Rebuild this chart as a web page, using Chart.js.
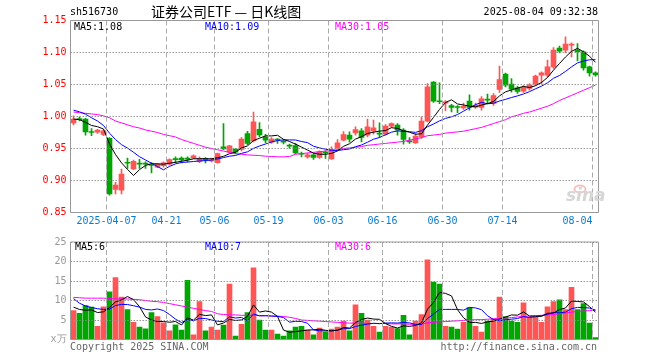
<!DOCTYPE html>
<html><head><meta charset="utf-8">
<script src="https://cdn.jsdelivr.net/npm/chart.js@4.4.1/dist/chart.umd.min.js"></script>
<style>
html,body{margin:0;padding:0;background:#fff;}
#wrap{position:relative;width:660px;height:360px;overflow:hidden;background:#fff;}
#k{position:absolute;left:0;top:0;}
#v{position:absolute;left:0;top:232px;}
</style></head>
<body><div id="wrap">
<canvas id="k" width="660" height="232"></canvas>
<canvas id="v" width="660" height="128"></canvas>
</div>
<script>
const dates = ['2025-03-27','2025-03-28','2025-03-31','2025-04-01','2025-04-02','2025-04-03','2025-04-07','2025-04-08','2025-04-09','2025-04-10',
'2025-04-11','2025-04-14','2025-04-15','2025-04-16','2025-04-17','2025-04-18','2025-04-21','2025-04-22','2025-04-23','2025-04-24',
'2025-04-25','2025-04-28','2025-04-29','2025-04-30','2025-05-06','2025-05-07','2025-05-08','2025-05-09','2025-05-12','2025-05-13',
'2025-05-14','2025-05-15','2025-05-16','2025-05-19','2025-05-20','2025-05-21','2025-05-22','2025-05-23','2025-05-26','2025-05-27',
'2025-05-28','2025-05-29','2025-05-30','2025-06-03','2025-06-04','2025-06-05','2025-06-06','2025-06-09','2025-06-10','2025-06-11',
'2025-06-12','2025-06-13','2025-06-16','2025-06-17','2025-06-18','2025-06-19','2025-06-20','2025-06-23','2025-06-24','2025-06-25',
'2025-06-26','2025-06-27','2025-06-30','2025-07-01','2025-07-02','2025-07-03','2025-07-04','2025-07-07','2025-07-08','2025-07-09',
'2025-07-10','2025-07-11','2025-07-14','2025-07-15','2025-07-16','2025-07-17','2025-07-18','2025-07-21','2025-07-22','2025-07-23',
'2025-07-24','2025-07-25','2025-07-28','2025-07-29','2025-07-30','2025-07-31','2025-08-01','2025-08-04'];

const tickDates = ['2025-04-07','2025-04-21','2025-05-06','2025-05-19','2025-06-03','2025-06-16','2025-06-30','2025-07-14','2025-08-04'];
const tickTexts = ['2025-04-07','04-21','05-06','05-19','06-03','06-16','06-30','07-14','08-04'];

const open = [0.990,0.996,0.996,0.976,0.9755,0.972,0.966,0.886,0.885,0.928,
0.918,0.926,0.926,0.9245,0.921,0.923,0.9255,0.933,0.935,0.934,
0.9354,0.9297,0.933,0.9305,0.928,0.9526,0.9443,0.949,0.9484,0.9734,
0.962,0.980,0.968,0.960,0.9635,0.9605,0.954,0.9547,0.9415,0.937,
0.940,0.936,0.9435,0.9339,0.9505,0.963,0.9708,0.9745,0.9776,0.9708,
0.9776,0.9726,0.9724,0.9849,0.9865,0.9786,0.9605,0.9589,0.9682,0.9927,
1.0536,1.024,1.021,1.017,1.0145,1.0135,1.024,1.0145,1.014,1.026,
1.0203,1.0422,1.0661,1.0505,1.0448,1.0396,1.0437,1.0505,1.0646,1.0646,
1.0776,1.1068,1.1036,1.1115,1.1036,1.101,1.0776,1.0682];
const close = [0.996,0.995,0.976,0.975,0.9786,0.9775,0.879,0.893,0.910,0.927,
0.930,0.9255,0.9255,0.9235,0.9255,0.9276,0.9328,0.9325,0.932,0.9335,
0.9385,0.9339,0.9325,0.931,0.942,0.9495,0.9542,0.9443,0.9646,0.9578,
0.9917,0.9714,0.963,0.9646,0.963,0.960,0.9537,0.9432,0.941,0.940,
0.936,0.9448,0.943,0.9484,0.9589,0.9719,0.9646,0.9797,0.9672,0.9839,
0.9823,0.9724,0.9849,0.989,0.9786,0.964,0.9604,0.9693,0.9927,1.0464,
1.024,1.023,1.023,1.014,1.014,1.016,1.014,1.0175,1.0276,1.0255,
1.0328,1.0578,1.049,1.0427,1.039,1.0464,1.0495,1.063,1.0682,1.0776,
1.1036,1.102,1.113,1.113,1.101,1.076,1.0682,1.065];
const high = [1.001,0.9995,0.997,0.981,0.980,0.979,0.967,0.897,0.918,0.935,
0.932,0.933,0.929,0.928,0.927,0.929,0.934,0.937,0.937,0.937,
0.940,0.937,0.936,0.935,0.943,0.989,0.955,0.950,0.967,0.977,
1.0068,0.9906,0.972,0.967,0.9656,0.963,0.957,0.9578,0.9443,0.943,
0.9422,0.9464,0.9464,0.9526,0.964,0.9766,0.976,0.984,0.981,0.9958,
0.9943,0.990,0.9875,0.990,0.989,0.981,0.9672,0.9734,0.9995,1.0516,
1.0546,1.0526,1.025,1.019,1.017,1.021,1.034,1.021,1.031,1.035,
1.036,1.0786,1.068,1.0594,1.047,1.0484,1.0516,1.0646,1.0698,1.088,
1.1078,1.110,1.1245,1.115,1.114,1.1026,1.0786,1.0698];
const low = [0.987,0.993,0.971,0.970,0.9734,0.970,0.877,0.879,0.879,0.919,
0.917,0.919,0.919,0.912,0.920,0.921,0.924,0.9276,0.9276,0.929,
0.934,0.928,0.9276,0.929,0.927,0.948,0.943,0.9417,0.9463,0.956,
0.9604,0.968,0.959,0.958,0.958,0.957,0.950,0.9417,0.937,0.935,
0.9328,0.9344,0.9344,0.9328,0.9484,0.962,0.960,0.971,0.9604,0.968,
0.9724,0.9672,0.9708,0.9828,0.9708,0.9568,0.9578,0.9578,0.9656,0.9917,
1.022,1.020,1.009,1.007,1.006,1.011,1.010,1.0125,1.010,1.0203,
1.0172,1.0375,1.0464,1.038,1.036,1.0375,1.041,1.0484,1.051,1.062,
1.075,1.0995,1.0995,1.093,1.087,1.0724,1.063,1.063];

const volume = [7.4,6.7,8.7,8.3,3.4,8.4,12.2,15.9,10.9,7.7,
4.4,3.2,2.75,6.9,5.9,4.3,2.25,3.75,2.4,15.2,
1.2,9.7,2.2,3.2,2.4,3.7,14.2,0.9,3.9,6.9,
18.4,5.0,2.4,2.4,1.4,0.9,2.2,3.2,3.4,2.4,
1.2,2.9,1.9,2.7,3.2,4.7,2.2,8.9,6.7,5.0,
3.4,1.9,3.4,3.2,2.8,6.2,1.2,4.7,6.4,20.4,
14.7,14.2,3.4,3.2,2.7,4.4,8.2,3.4,1.9,4.7,
5.3,10.9,5.9,4.7,4.4,9.4,5.7,5.7,4.4,8.4,
9.7,10.2,7.7,13.4,7.7,9.2,4.2,0.5];

const ma5 = [0.996,0.995,0.991,0.986,0.9841,0.9804,0.9572,0.9406,0.9276,0.9173,
0.9078,0.917,0.9236,0.9263,0.926,0.9255,0.927,0.9284,0.9301,0.9317,
0.9339,0.9341,0.9341,0.9339,0.9356,0.9378,0.9418,0.9442,0.9509,0.9541,
0.9625,0.966,0.9697,0.9697,0.9707,0.9644,0.9609,0.9569,0.9522,0.9476,
0.9428,0.941,0.941,0.9424,0.9462,0.9534,0.9574,0.9647,0.9685,0.9735,
0.9755,0.9771,0.9781,0.9825,0.9814,0.9778,0.9754,0.9723,0.973,0.9866,
0.9986,1.0111,1.0218,1.0261,1.0196,1.018,1.0162,1.0151,1.0178,1.0201,
1.0235,1.0322,1.0385,1.0416,1.0443,1.047,1.0453,1.0481,1.0532,1.0609,
1.0724,1.0829,1.0929,1.1018,1.1065,1.101,1.0942,1.0846];
const ma10 = [1.0099,1.0073,1.0036,0.998,0.993,0.986,0.974,0.964,0.956,0.9507,
0.9441,0.9372,0.9321,0.927,0.9217,0.9167,0.922,0.926,0.9282,0.9288,
0.9297,0.9305,0.9312,0.932,0.9336,0.9358,0.938,0.9391,0.9424,0.9448,
0.9502,0.9539,0.957,0.9603,0.9624,0.9635,0.9634,0.9633,0.9609,0.9592,
0.9536,0.9509,0.9489,0.9473,0.9469,0.9481,0.9492,0.9528,0.9555,0.9598,
0.9645,0.9672,0.9714,0.9755,0.9775,0.9767,0.9762,0.9752,0.9778,0.984,
0.9882,0.9932,0.997,0.9995,1.0031,1.0083,1.0136,1.0185,1.022,1.0199,
1.0207,1.0242,1.0268,1.0297,1.0322,1.0352,1.0388,1.0433,1.0474,1.0526,
1.0597,1.0641,1.0705,1.0775,1.0837,1.0867,1.0886,1.0888];
const ma30 = [1.007,1.006,1.005,1.004,1.003,1.001,0.998,0.993,0.990,0.987,
0.984,0.982,0.979,0.977,0.975,0.972,0.970,0.968,0.964,0.961,
0.958,0.955,0.952,0.950,0.948,0.946,0.944,0.942,0.941,0.940,
0.9395,0.939,0.938,0.9375,0.937,0.937,0.9375,0.941,0.942,0.943,
0.944,0.945,0.946,0.947,0.948,0.950,0.951,0.952,0.953,0.955,
0.956,0.957,0.958,0.959,0.960,0.961,0.963,0.965,0.967,0.970,
0.971,0.972,0.974,0.975,0.976,0.977,0.979,0.981,0.983,0.986,
0.989,0.992,0.995,0.9995,1.002,1.005,1.007,1.010,1.013,1.016,
1.020,1.025,1.029,1.033,1.037,1.041,1.045,1.049];

const vma5 = [8.3,7.7,7.5,7.6,6.9,7.1,8.2,9.64,10.16,11.02,
10.22,8.42,5.79,4.99,4.63,4.61,4.42,4.62,3.72,5.58,
4.96,6.45,6.14,6.3,3.74,4.24,5.14,4.88,5.02,5.92,
8.86,7.02,7.32,7.02,5.92,2.42,1.86,2.02,2.22,2.42,
2.48,2.62,2.36,2.22,2.38,3.08,2.94,4.34,5.14,5.5,
5.24,5.18,4.08,3.38,2.94,3.5,3.36,3.62,4.26,7.78,
9.48,12.08,11.82,11.18,7.64,5.58,4.38,4.38,4.12,4.52,
4.7,5.24,5.74,6.3,6.24,7.06,6.02,5.98,5.92,6.72,
6.78,7.68,8.08,9.88,9.74,9.64,8.44,7.0];
const vma10 = [10.5,9.3,8.6,8.2,7.9,7.7,7.8,8.7,9.0,8.96,
8.66,8.31,7.72,7.58,7.83,7.42,6.42,5.21,4.36,5.11,
4.79,5.44,5.38,5.01,4.66,4.6,5.8,5.51,5.66,4.83,
6.55,6.08,6.1,6.02,5.92,5.64,4.44,4.67,4.62,4.17,
2.45,2.24,2.19,2.22,2.4,2.78,2.78,3.35,3.68,3.94,
4.16,4.06,4.21,4.26,4.22,4.37,4.27,3.85,3.82,5.36,
6.49,7.72,7.72,7.72,7.71,7.53,8.23,8.1,7.65,6.08,
5.14,4.81,5.06,5.21,5.38,5.88,5.63,5.86,6.11,6.48,
6.92,6.85,7.03,7.9,8.23,8.21,8.06,7.54];
const vma30 = [10.8,10.7,10.6,10.6,10.6,10.6,10.5,10.4,10.4,10.4,
10.3,10.2,10.0,9.8,9.7,9.5,9.2,8.9,8.6,8.3,
8.0,7.7,7.4,7.2,6.6,6.4,6.3,6.3,6.2,6.2,
6.2,6.1,6.1,6.0,6.0,5.9,5.7,5.4,5.0,4.9,
4.8,4.7,4.6,4.5,4.4,4.3,4.2,4.2,4.2,4.1,
4.1,4.1,4.1,4.0,4.0,4.0,3.9,3.9,3.9,4.3,
4.4,4.5,4.6,4.7,4.8,4.9,5.0,5.1,5.1,5.2,
5.3,5.4,5.5,5.6,5.8,5.9,6.0,6.1,6.2,6.3,
6.4,6.6,6.8,7.0,7.2,7.3,7.4,7.5];

const priceMin = 0.85, priceMax = 1.15, priceStep = 0.05;
const volMin = 0, volMax = 25, volStep = 5;

const UP = '#FF5555', DOWN = '#00A600';
const MONO = "'DejaVu Sans Mono', monospace";
const tickIdx = tickDates.map(d => dates.indexOf(d));
const barColor = dates.map((_, i) => close[i] >= open[i] ? UP : DOWN);

// grid (dotted horizontals, dashed verticals at labelled dates) and frame, positioned via the chart's scales
function drawGridAndFrame(chart) {
  const { ctx, chartArea: a, scales: { x, y } } = chart;
  ctx.save();
  ctx.globalAlpha = 1;
  ctx.globalCompositeOperation = 'source-over';
  ctx.lineWidth = 1;
  ctx.strokeStyle = '#999999';
  ctx.setLineDash([1, 2]);
  y.ticks.forEach(t => {
    const py = Math.floor(y.getPixelForValue(t.value)) + 0.5;
    if (py <= a.top + 1 || py >= a.bottom - 1) return;
    ctx.beginPath(); ctx.moveTo(a.left, py); ctx.lineTo(a.right, py); ctx.stroke();
  });
  ctx.strokeStyle = '#aaaaaa';
  ctx.setLineDash([5, 3]);
  const half = (x.getPixelForTick(1) - x.getPixelForTick(0)) / 2;
  tickIdx.forEach(i => {
    const px = Math.floor(x.getPixelForTick(i) - half) + 0.5;
    ctx.beginPath(); ctx.moveTo(px, a.top); ctx.lineTo(px, a.bottom); ctx.stroke();
  });
  ctx.setLineDash([]);
  ctx.strokeStyle = '#999999';
  ctx.beginPath();
  ctx.rect(a.left, a.top, a.right - a.left, a.bottom - a.top);
  ctx.stroke();
  ctx.restore();
}

function drawTexts(ctx, items) {
  ctx.save();
  ctx.textBaseline = 'middle';
  items.forEach(([txt, x, y, color, align, font]) => {
    ctx.font = font || "10px 'DejaVu Sans Mono'";
    ctx.fillStyle = color;
    ctx.textAlign = align || 'left';
    ctx.fillText(txt, x, y);
  });
  ctx.restore();
}

const priceDecor = {
  id: 'priceDecor',
  afterDraw(chart) {
    const ctx = chart.ctx;
    drawGridAndFrame(chart);
    ctx.save();
    ctx.strokeStyle = '#f3c4c4';
    ctx.lineWidth = 2;
    ctx.beginPath();
    ctx.ellipse(580, 189, 5.5, 3.5, 0, 0, Math.PI * 2);
    ctx.stroke();
    ctx.restore();
    drawTexts(ctx, [
      ['sh516730', 70, 12, '#000'],
      ['证券公司ETF — 日K线图', 151, 12, '#000', 'left', "14px 'Noto Sans CJK SC'"],
      ['2025-08-04 09:32:38', 598, 12, '#000', 'right'],
      ['MA5:' + ma5[ma5.length - 1].toFixed(2), 74, 27, '#000'],
      ['MA10:' + ma10[ma10.length - 1].toFixed(2), 205, 27, '#0000FF'],
      ['MA30:' + ma30[ma30.length - 1].toFixed(2), 335, 27, '#FF00FF'],
      ['sina', 566, 197, '#d6d6d6', 'left', "italic bold 17px 'DejaVu Sans'"]
    ]);
  }
};

const volDecor = {
  id: 'volDecor',
  afterDraw(chart) {
    drawGridAndFrame(chart);
    drawTexts(chart.ctx, [
      ['MA5:6', 75, 15, '#000'],
      ['MA10:7', 205, 15, '#0000FF'],
      ['MA30:6', 335, 15, '#FF00FF'],
      ['Copyright 2025 SINA.COM', 70, 115, '#666'],
      ['http://finance.sina.com.cn', 597, 115, '#666', 'right']
    ]);
  }
};

function lineDs(data, color) {
  return { type: 'line', data, borderColor: color, borderWidth: 1, pointRadius: 0, tension: 0, fill: false, order: 0 };
}

function xScale(showTicks) {
  return {
    offset: true,
    grid: { display: false, drawTicks: false },
    border: { display: false },
    ticks: {
      display: showTicks, autoSkip: false, maxRotation: 0, minRotation: 0,
      align: 'inner', labelOffset: -3, padding: 3, color: '#0A7BD0',
      font: { family: MONO, size: 10 },
      callback: (v, i) => { const k = tickIdx.indexOf(i); return k >= 0 ? tickTexts[k] : ''; }
    },
    afterFit: s => { s.height = showTicks ? 19.5 : 0; }
  };
}

new Chart(document.getElementById('k'), {
  type: 'bar',
  data: {
    labels: dates,
    datasets: [
      lineDs(ma5, '#000000'),
      lineDs(ma10, '#0000FF'),
      lineDs(ma30, '#FF00FF'),
      { data: dates.map((_, i) => [open[i], close[i]]), backgroundColor: barColor, barThickness: 5, minBarLength: 1, grouped: false, order: 1 },
      { data: dates.map((_, i) => [low[i], high[i]]), backgroundColor: barColor, barThickness: 1, grouped: false, order: 2 }
    ]
  },
  options: {
    responsive: false, animation: false, devicePixelRatio: 1,
    layout: { padding: { left: 0, right: 61.5, top: 20.5, bottom: 0 }, autoPadding: false },
    plugins: { legend: { display: false }, tooltip: { enabled: false } },
    scales: {
      x: xScale(true),
      y: {
        min: priceMin, max: priceMax,
        ticks: { stepSize: priceStep, color: '#FF0000', padding: 4, font: { family: MONO, size: 10 }, callback: v => Number(v).toFixed(2) },
        grid: { color: '#999', drawTicks: false },
        border: { display: false, dash: [1, 2] },
        afterFit: s => { s.width = 70.5; }
      }
    }
  },
  plugins: [priceDecor]
});

new Chart(document.getElementById('v'), {
  type: 'bar',
  data: {
    labels: dates,
    datasets: [
      lineDs(vma5, '#000000'),
      lineDs(vma10, '#0000FF'),
      lineDs(vma30, '#FF00FF'),
      { data: volume, backgroundColor: barColor, barThickness: 5, grouped: false, order: 1 }
    ]
  },
  options: {
    responsive: false, animation: false, devicePixelRatio: 1,
    layout: { padding: { left: 0, right: 61.5, top: 8.5, bottom: 20.5 }, autoPadding: false },
    plugins: { legend: { display: false }, tooltip: { enabled: false } },
    scales: {
      x: xScale(false),
      y: {
        min: volMin, max: volMax,
        ticks: { stepSize: volStep, color: '#999', padding: 4, font: { family: MONO, size: 10 }, callback: v => v === 0 ? 'x万' : String(v) },
        grid: { color: '#999', drawTicks: false },
        border: { display: false, dash: [1, 2] },
        afterFit: s => { s.width = 70.5; }
      }
    }
  },
  plugins: [volDecor]
});
</script>
</body></html>
